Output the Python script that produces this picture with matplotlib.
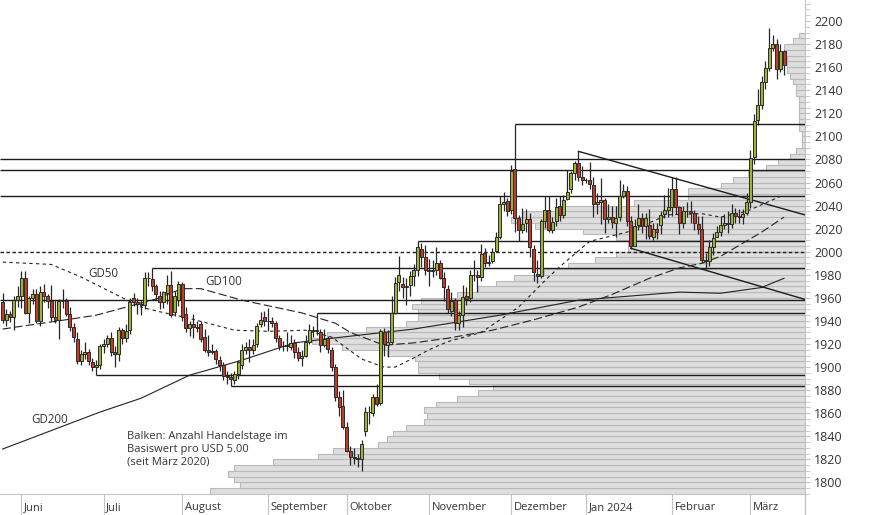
import matplotlib
matplotlib.use('Agg')
import matplotlib.pyplot as plt
import numpy as np
import pandas as pd

plt.rcParams['font.family'] = ['Open Sans', 'DejaVu Sans']

# trading days on the chart (weekdays, no candle on 25 Dec)
days = pd.bdate_range('2023-05-25', '2024-03-14')
days = days[days != pd.Timestamp('2023-12-25')]

opens = [1956, 1941, 1946, 1943, 1958, 1962, 1977, 1947, 1960, 1963,
         1940, 1965, 1962, 1957, 1943, 1941, 1957, 1957, 1946, 1935,
         1924, 1905, 1911, 1913, 1904, 1900, 1902, 1918, 1920, 1925,
         1913, 1911, 1932, 1925, 1932, 1960, 1956, 1955, 1954, 1977,
         1976, 1970, 1962, 1956, 1964, 1971, 1948, 1958, 1972, 1946,
         1934, 1937, 1935, 1937, 1926, 1915, 1913, 1914, 1906, 1902,
         1892, 1891, 1889, 1894, 1902, 1915, 1917, 1915, 1920, 1937,
         1943, 1940, 1940, 1938, 1925, 1918, 1918, 1917, 1921, 1913,
         1908, 1910, 1922, 1932, 1931, 1930, 1919, 1925, 1915, 1900,
         1874, 1866, 1848, 1827, 1822, 1821, 1820, 1845, 1861, 1860,
         1874, 1869, 1930, 1919, 1922, 1947, 1974, 1972, 1969, 1971,
         1979, 1984, 2002, 1995, 1984, 1983, 1984, 1990, 1977, 1968,
         1949, 1958, 1938, 1945, 1962, 1960, 1980, 1980, 1978, 1999,
         1990, 1992, 2001, 2013, 2041, 2044, 2036, 2072, 2029, 2019,
         2025, 2028, 2002, 1981, 1979, 2027, 2036, 2019, 2027, 2040,
         2032, 2046, 2054, 2068, 2077, 2065, 2062, 2062, 2058, 2041,
         2043, 2045, 2028, 2030, 2025, 2030, 2048, 2053, 2027, 2005,
         2023, 2029, 2022, 2023, 2013, 2020, 2023, 2033, 2036, 2039,
         2054, 2039, 2025, 2035, 2035, 2034, 2024, 2020, 1993, 1992,
         2004, 2013, 2017, 2023, 2025, 2024, 2034, 2031, 2030, 2034,
         2043, 2082, 2114, 2127, 2147, 2159, 2177, 2180, 2158, 2174]
highs = [1964, 1950, 1949, 1962, 1970, 1983, 1983, 1962, 1968, 1968,
         1970, 1972, 1963, 1971, 1958, 1959, 1968, 1960, 1952, 1938,
         1930, 1915, 1922, 1916, 1908, 1906, 1920, 1924, 1928, 1930,
         1918, 1935, 1934, 1937, 1960, 1964, 1960, 1958, 1982, 1982,
         1986, 1972, 1966, 1966, 1980, 1983, 1966, 1975, 1974, 1952,
         1940, 1946, 1940, 1940, 1933, 1928, 1920, 1916, 1910, 1904,
         1897, 1895, 1897, 1906, 1920, 1922, 1924, 1924, 1938, 1948,
         1949, 1951, 1943, 1940, 1928, 1923, 1930, 1928, 1924, 1917,
         1915, 1928, 1937, 1936, 1947, 1933, 1933, 1927, 1917, 1903,
         1879, 1880, 1852, 1832, 1830, 1825, 1837, 1865, 1866, 1877,
         1885, 1933, 1934, 1932, 1962, 1978, 1996, 1978, 1977, 1983,
         1989, 2009, 2008, 2006, 1994, 1993, 2004, 1993, 1982, 1971,
         1965, 1960, 1949, 1971, 1969, 1984, 1993, 1984, 2007, 2003,
         1997, 2003, 2017, 2048, 2052, 2047, 2075, 2111, 2032, 2038,
         2037, 2034, 2006, 1993, 2028, 2048, 2048, 2030, 2047, 2048,
         2049, 2071, 2070, 2079, 2087, 2074, 2064, 2078, 2065, 2051,
         2064, 2047, 2041, 2040, 2040, 2062, 2059, 2057, 2031, 2028,
         2041, 2034, 2034, 2037, 2025, 2025, 2035, 2049, 2055, 2065,
         2065, 2040, 2040, 2043, 2044, 2036, 2031, 2031, 1999, 2010,
         2016, 2022, 2031, 2033, 2035, 2041, 2038, 2037, 2037, 2051,
         2088, 2119, 2141, 2152, 2165, 2194, 2188, 2184, 2180, 2175]
lows = [1938, 1936, 1939, 1932, 1952, 1951, 1946, 1938, 1955, 1938,
        1936, 1956, 1951, 1940, 1938, 1924, 1951, 1944, 1931, 1922,
        1903, 1902, 1907, 1902, 1897, 1893, 1898, 1912, 1917, 1910,
        1900, 1905, 1920, 1922, 1929, 1953, 1946, 1945, 1950, 1970,
        1966, 1958, 1950, 1951, 1955, 1943, 1944, 1953, 1940, 1930,
        1927, 1925, 1930, 1922, 1913, 1910, 1911, 1903, 1897, 1889,
        1885, 1884, 1885, 1890, 1898, 1911, 1904, 1911, 1917, 1935,
        1936, 1931, 1935, 1922, 1915, 1914, 1914, 1915, 1908, 1905,
        1901, 1909, 1920, 1926, 1928, 1913, 1917, 1912, 1897, 1871,
        1858, 1846, 1826, 1815, 1816, 1813, 1810, 1840, 1851, 1858,
        1866, 1867, 1910, 1909, 1920, 1946, 1966, 1960, 1954, 1962,
        1970, 1979, 1987, 1980, 1970, 1978, 1980, 1976, 1957, 1947,
        1944, 1932, 1932, 1935, 1954, 1956, 1975, 1965, 1975, 1987,
        1988, 1990, 2000, 2011, 2035, 2031, 2033, 2017, 2009, 2016,
        2017, 1995, 1975, 1973, 1977, 2021, 2017, 2016, 2022, 2027,
        2029, 2045, 2051, 2062, 2061, 2058, 2060, 2054, 2030, 2033,
        2024, 2016, 2025, 2021, 2013, 2027, 2047, 2022, 2002, 2005,
        2019, 2016, 2011, 2011, 2010, 2011, 2015, 2029, 2030, 2031,
        2033, 2015, 2021, 2030, 2025, 2019, 2015, 1990, 1985, 1988,
        1997, 2013, 2014, 2020, 2016, 2021, 2025, 2025, 2024, 2032,
        2038, 2076, 2110, 2124, 2141, 2157, 2174, 2150, 2156, 2153]
closes = [1941, 1946, 1943, 1958, 1962, 1977, 1947, 1960, 1963, 1940,
          1965, 1962, 1957, 1943, 1941, 1957, 1957, 1946, 1935, 1926,
          1905, 1911, 1913, 1905, 1900, 1902, 1918, 1920, 1925, 1913,
          1911, 1932, 1925, 1931, 1956, 1956, 1955, 1954, 1977, 1977,
          1970, 1963, 1956, 1965, 1971, 1945, 1962, 1972, 1943, 1934,
          1937, 1935, 1934, 1924, 1915, 1913, 1914, 1907, 1902, 1892,
          1891, 1890, 1894, 1904, 1915, 1917, 1915, 1919, 1936, 1941,
          1940, 1940, 1938, 1925, 1918, 1918, 1919, 1921, 1913, 1908,
          1910, 1922, 1932, 1931, 1932, 1919, 1924, 1916, 1900, 1874,
          1865, 1848, 1827, 1822, 1821, 1820, 1833, 1861, 1861, 1874,
          1868, 1931, 1920, 1922, 1947, 1973, 1980, 1969, 1970, 1979,
          1984, 2004, 1995, 1984, 1983, 1984, 1990, 1977, 1969, 1950,
          1957, 1938, 1945, 1961, 1959, 1980, 1980, 1978, 1998, 1990,
          1991, 2000, 2013, 2041, 2043, 2035, 2070, 2029, 2019, 2024,
          2028, 2004, 1982, 1979, 2027, 2036, 2019, 2026, 2039, 2032,
          2045, 2052, 2068, 2077, 2065, 2062, 2062, 2059, 2041, 2043,
          2045, 2028, 2030, 2026, 2029, 2048, 2053, 2027, 2005, 2022,
          2029, 2022, 2029, 2014, 2020, 2017, 2032, 2036, 2039, 2054,
          2039, 2025, 2035, 2035, 2034, 2025, 2020, 1993, 1992, 2004,
          2012, 2017, 2023, 2025, 2024, 2034, 2031, 2030, 2033, 2043,
          2081, 2113, 2127, 2147, 2159, 2177, 2180, 2158, 2174, 2162]

# moving averages (candle index, value)
gd50_idx = [0, 13, 21, 29, 37, 42, 49, 62, 71, 81, 88, 96, 102, 105, 110,
            114, 119, 128, 138, 142, 146, 149, 157, 167, 178, 187, 192, 199, 208]
gd50_val = [1991, 1989, 1978, 1965, 1952, 1948, 1943, 1932, 1931, 1932, 1926,
            1907, 1900, 1900, 1908, 1915, 1922, 1930, 1952, 1965, 1978, 1987,
            2009, 2017, 2032, 2033, 2030, 2035, 2048]
gd100_idx = [0, 19, 25, 33, 41, 48, 53, 64, 80, 89, 93, 102, 110, 119, 131,
             142, 154, 163, 173, 181, 187, 192, 203, 209]
gd100_val = [1933, 1942, 1945, 1952, 1959, 1968, 1968, 1958, 1947, 1938, 1930,
             1919, 1921, 1925, 1932, 1941, 1952, 1963, 1977, 1986, 1990, 1996,
             2017, 2030]
gd200_idx = [0, 26, 37, 50, 64, 78, 88, 110, 133, 154, 181, 192, 203, 209]
gd200_val = [1829, 1861, 1873, 1893, 1906, 1921, 1925, 1933, 1945, 1958, 1965,
             1964, 1969, 1977]

# support / resistance levels, drawn from the given day to the right edge
levels = [2111, 2080, 2071, 2048, 2009, 1986, 1958, 1947, 1893, 1884]
level_from = ['2023-12-04', None, None, None, '2023-10-27', '2023-07-20',
              None, '2023-09-20', '2023-06-29', '2023-08-18']
dashed_level = 2000

# trend lines: start day/value and a second read point
trend_days = [('2023-12-28', '2024-03-14'), ('2024-01-17', '2024-03-14')]
trend_vals = [(2087, 2037), (2003, 1964)]

# volume profile: trading days per USD 5 band since March 2020
band_low = list(range(1790, 2190, 5))
band_days = [198, 188, 190, 192, 190, 177, 162, 157, 142, 139,
             137, 133, 127, 126, 127, 123, 116, 109, 104, 112,
             122, 129, 129, 130, 139, 154, 164, 159, 146, 133,
             129, 129, 131, 128, 116, 109, 103, 97, 87, 79,
             70, 63, 59, 59, 63, 74, 90, 98, 94, 80,
             57, 39, 39, 28, 24, 19, 13, 9, 5, 3,
             1, 1, 1, 2, 2, 2, 2, 2, 2, 3,
             3, 4, 5, 6, 6, 6, 7, 7, 4, 2]

month_names = ['Juni', 'Juli', 'August', 'September', 'Oktober', 'November',
               'Dezember', 'Jan 2024', 'Februar', 'März']

fig = plt.figure(figsize=(8.74, 5.15), dpi=100)
ax = fig.add_axes([0, 21 / 515, 805 / 874, 494 / 515])
axv = ax.twiny()
ax.set_zorder(axv.get_zorder() + 1)
ax.patch.set_visible(False)

x0, x1 = -0.72, 214.6
ax.set_xlim(x0, x1)
ax.set_ylim(1790.5, 2218.2)

# volume profile bars growing from the right axis
axv.barh(np.array(band_low) + 2.5, band_days, height=5, color='#dedede',
         edgecolor='#b9b9b9', linewidth=0.8)
axv.set_xlim(268, 0)
axv.set_xticks([])
for s in axv.spines.values():
    s.set_visible(False)

pos = {d.strftime('%Y-%m-%d'): i for i, d in enumerate(days)}

lc = '#1c1c1c'
for lv, d in zip(levels, level_from):
    start = x0 if d is None else pos[d]
    ax.hlines(lv, start, x1, color=lc, lw=1.0, zorder=2)
ax.hlines(dashed_level, x0, x1, color=lc, lw=1.0, linestyles=(0, (2.5, 1.8)), zorder=2)

for (da, db), (va, vb) in zip(trend_days, trend_vals):
    ia, ib = pos[da], pos[db]
    slope = (vb - va) / (ib - ia)
    ax.plot([ia, x1], [va, va + slope * (x1 - ia)], color=lc, lw=1.0, zorder=2)

ax.plot(gd50_idx, gd50_val, color='#222222', lw=0.8, dashes=(3, 3), zorder=3)
ax.plot(gd100_idx, gd100_val, color='#222222', lw=0.8, dashes=(7.5, 3), zorder=3)
ax.plot(gd200_idx, gd200_val, color='#222222', lw=0.8, zorder=3)

# candles
o = np.array(opens); h = np.array(highs); l = np.array(lows); c = np.array(closes)
xs = np.arange(len(days))
up = c >= o
ax.vlines(xs, l, h, color='#262626', lw=0.9, zorder=4)
ax.bar(xs, c - o, bottom=o, width=0.8,
       color=np.where(up, '#9db52c', '#c23b26'),
       edgecolor='#2a2a2a', linewidth=0.7, zorder=5)

tc = '#333333'
ax.text(27, 1981, 'GD50', fontsize=8.3, color=tc, ha='center', va='center')
ax.text(59, 1974, 'GD100', fontsize=8.3, color=tc, ha='center', va='center')
ax.text(12.5, 1855, 'GD200', fontsize=8.3, color=tc, ha='center', va='center')
ax.text(33.3, 1845, 'Balken: Anzahl Handelstage im\nBasiswert pro USD 5.00\n(seit März 2020)',
        fontsize=8, color=tc, ha='left', va='top', linespacing=1.25)

# axes styling
gc = '#c4c4c4'
for s in ['left', 'top']:
    ax.spines[s].set_visible(False)
ax.spines['right'].set_color(gc)
ax.spines['bottom'].set_color(gc)
ax.yaxis.tick_right()
ax.set_yticks(range(1800, 2201, 20))
ax.set_yticks(range(1790, 2216, 5), minor=True)
ax.tick_params(axis='y', which='both', length=3.6, color=gc, pad=3,
               labelsize=9, labelcolor=tc)

month_first = [i for i in range(1, len(days)) if days[i].month != days[i - 1].month]
ax.set_xticks(month_first)
ax.set_xticklabels([])
ax.tick_params(axis='x', length=15, color=gc)
for i, name in zip(month_first, month_names):
    ax.text(i + 0.7, -0.027, name, transform=ax.get_xaxis_transform(),
            fontsize=8, color=tc, ha='left', va='center')
ax.plot([1, 1], [0, -21 / 494], transform=ax.transAxes, color=gc, lw=1, clip_on=False)

fig.savefig('out.png', dpi=100)
